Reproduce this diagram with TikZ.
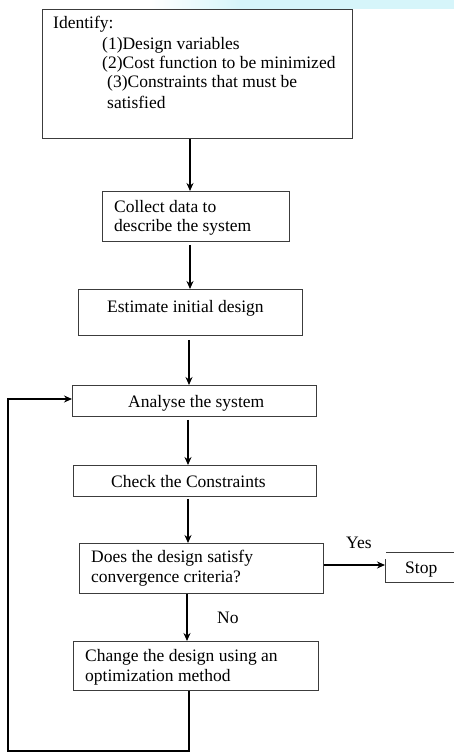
\documentclass[tikz,border=0pt]{standalone}
\usepackage{fontspec}
\setmainfont{Liberation Serif}
\usetikzlibrary{arrows.meta,calc}
\definecolor{bordergray}{HTML}{3C3C3C}
\definecolor{bandcyan}{RGB}{214,245,250}
\begin{document}
\begin{tikzpicture}[x=1pt,y=-1pt,
  box/.style={draw=bordergray, line width=0.9pt, fill=white, rectangle, inner sep=0pt, anchor=north west},
  txt/.style={anchor=base west, inner sep=0pt, font=\fontsize{17.5}{19.7}\selectfont},
  arr/.style={draw=black, line width=1.8pt, -{Stealth[length=8pt,width=7pt]}}]
\useasboundingbox (0,0) rectangle (454,752);
\clip (0,0) rectangle (454,752);
\fill[white] (0,0) rectangle (454,752);
\shade[left color=white, right color=bandcyan] (150,0) rectangle (240,9);
\fill[bandcyan] (240,0) rectangle (454,9);

% boxes
\node[box, minimum width=310pt, minimum height=129pt] (b1) at (42,9) {};
\node[box, minimum width=187pt, minimum height=50pt] (b2) at (102,191) {};
\node[box, minimum width=224pt, minimum height=46pt] (b3) at (78,289) {};
\node[box, minimum width=244pt, minimum height=31pt] (b4) at (72,385) {};
\node[box, minimum width=243pt, minimum height=31pt] (b5) at (73,465) {};
\node[box, minimum width=244pt, minimum height=50pt] (b6) at (79,543) {};
\node[box, minimum width=245pt, minimum height=49pt] (b7) at (73,641) {};
\node[box, minimum width=100pt, minimum height=30pt] (stop) at (385,552) {};
% white backdrop of the "Yes" label, hiding the corner of the Stop box
\fill[white] (334,531) rectangle (386,559);

% texts
\node[txt] (t1a) at (53,29) {Identify:};
\node[txt] (t1b) at (102,49) {(1)Design variables};
\node[txt] (t1c) at (102,68.5) {(2)Cost function to be minimized};
\node[txt] (t1d) at (107,88) {(3)Constraints that must be};
\node[txt] (t1e) at (107,108) {satisfied};
\node[txt] (t2a) at (114,212) {Collect data to};
\node[txt] (t2b) at (114,231) {describe the system};
\node[txt] (t3) at (107,312) {Estimate initial design};
\node[txt] (t4) at (128,407) {Analyse the system};
\node[txt] (t5) at (111,487) {Check the Constraints};
\node[txt] (t6a) at (91,562) {Does the design satisfy};
\node[txt] (t6b) at (91,582) {convergence criteria?};
\node[txt] (t7a) at (85,661) {Change the design using an};
\node[txt] (t7b) at (85,681) {optimization method};
\node[txt] (tstop) at (405,573) {Stop};
\node[txt] (tyes) at (346,548) {Yes};
\node[txt] (tno) at (217,623) {No};

% column coordinates
\coordinate (c1) at (190,0);
\coordinate (c2) at (189,0);
\coordinate (c3) at (188,0);
\coordinate (c4) at (187,0);
\coordinate (cy) at (0,565);
\coordinate (lb) at (189,751);
\coordinate (ll) at (8,751);
\coordinate (lt) at (8,399);

% connectors
\draw[arr] (b1.south -| c1) -- (b2.north -| c1);
\draw[arr] (b2.south -| c1) ++(0,3) -- (b3.north -| c1);
\draw[arr] (b3.south -| c2) ++(0,4) -- (b4.north -| c2);
\draw[arr] (b4.south -| c3) ++(0,3) -- (b5.north -| c3);
\draw[arr] (b5.south -| c3) ++(0,2) -- (b6.north -| c3);
\draw[arr] (b6.east |- cy) -- (stop.west |- cy);
\draw[arr] (b6.south -| c4) -- (b7.north -| c4);
\draw[arr] (b7.south -| lb) -- (lb) -- (ll) -- (lt) -- (lt -| b4.west);
\end{tikzpicture}
\end{document}
